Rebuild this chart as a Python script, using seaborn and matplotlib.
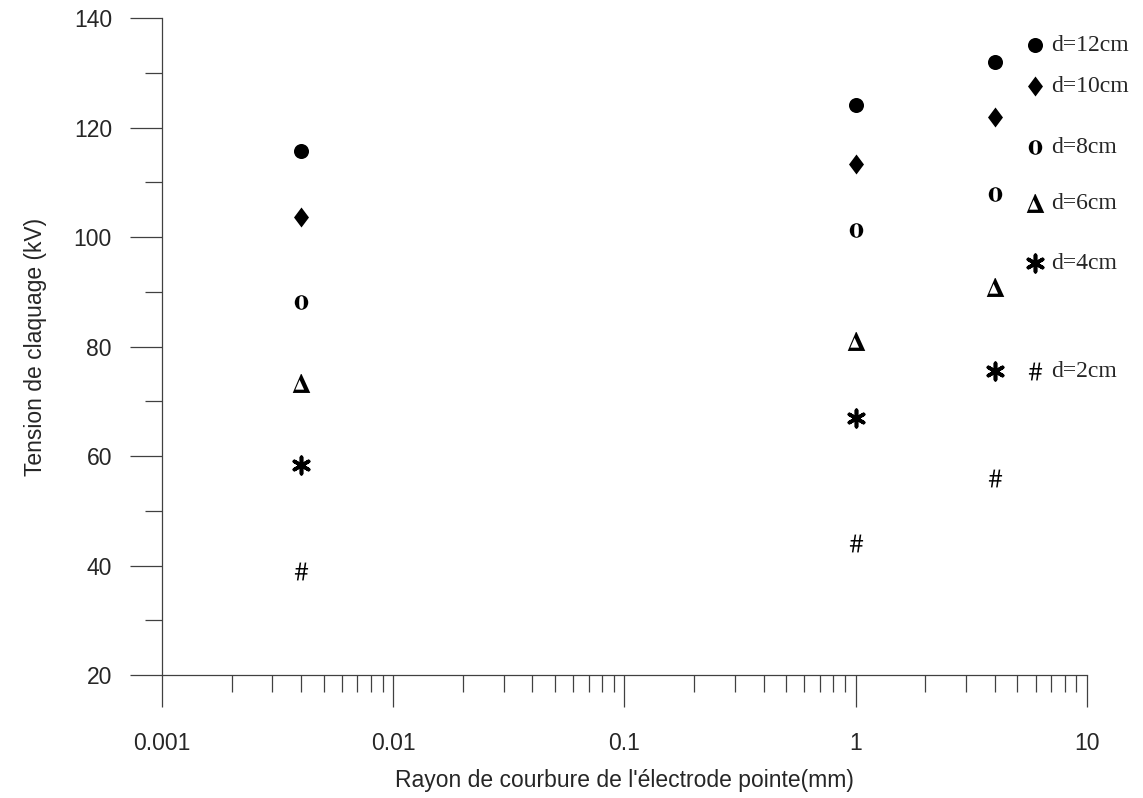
import matplotlib
matplotlib.use("Agg")
import matplotlib.pyplot as plt
import numpy as np
import pandas as pd
import seaborn as sns
from matplotlib import ticker

# point radius of curvature (mm)
rayon = [0.004, 1, 4]

# breakdown voltage (kV) for each gap distance
v_d12 = [115.8, 124.1, 132.0]
v_d10 = [103.7, 113.3, 121.9]
v_d8 = [88.2, 101.2, 107.8]
v_d6 = [73.4, 81.0, 90.8]
v_d4 = [58.3, 66.9, 75.6]
v_d2 = [39.0, 44.1, 55.9]

d_labels = ["d=12cm", "d=10cm", "d=8cm", "d=6cm", "d=4cm", "d=2cm"]
series = [v_d12, v_d10, v_d8, v_d6, v_d4, v_d2]

df = pd.DataFrame(
    [(r, v, lab) for lab, vals in zip(d_labels, series) for r, v in zip(rayon, vals)],
    columns=["rayon", "tension", "d"],
)

sns.set_style("ticks")
plt.rcParams["font.family"] = ["Liberation Sans", "DejaVu Sans"]
plt.rcParams["mathtext.fontset"] = "stix"

fig = plt.figure(figsize=(11.43, 7.98), dpi=100)
ax = fig.add_axes([0.1417, 0.1541, 0.8093, 0.8233])

diamond = [(0, 1), (0.75, 0), (0, -1), (-0.75, 0), (0, 1)]
markers = ["o", diamond, r"$\mathbf{o}$", r"$\mathbf{\Delta}$", (6, 2, 0), r"$\#$"]
sizes = [117, 207, 110, 185, 140, 165]
lws = [0, 0, 0, 0, 2.6, 0]

for lab, mk, s, lw in zip(d_labels, markers, sizes, lws):
    sns.scatterplot(
        data=df[df["d"] == lab],
        x="rayon",
        y="tension",
        marker=mk,
        s=s,
        color="black",
        edgecolor="black",
        linewidth=lw,
        ax=ax,
        legend=False,
    )

ax.set_xscale("log")
ax.set_xlim(0.001, 10)
ax.set_ylim(20, 140)
ax.xaxis.set_major_locator(ticker.LogLocator(base=10))
ax.xaxis.set_minor_locator(ticker.LogLocator(base=10, subs=np.arange(2, 10), numticks=20))
ax.xaxis.set_major_formatter(ticker.FuncFormatter(lambda v, p: f"{v:g}"))
ax.xaxis.set_minor_formatter(ticker.NullFormatter())
ax.yaxis.set_major_locator(ticker.MultipleLocator(20))
ax.yaxis.set_minor_locator(ticker.MultipleLocator(10))

sns.despine(ax=ax)
for sp in ["left", "bottom"]:
    ax.spines[sp].set_color("#404040")
    ax.spines[sp].set_linewidth(0.9)

ax.tick_params(axis="both", which="major", length=23, width=0.9, color="#404040",
               labelsize=16.5, direction="out")
ax.tick_params(axis="both", which="minor", length=12, width=0.9, color="#404040",
               direction="out")
ax.tick_params(axis="y", which="major", pad=13)
ax.tick_params(axis="x", which="major", pad=18)

ax.set_xlabel("Rayon de courbure de l'électrode pointe(mm)", fontsize=16.5, labelpad=10)
ax.set_ylabel("Tension de claquage (kV)", fontsize=16.5, labelpad=19)

# hand-placed legend entries, as in the original figure
leg_y = [45, 86, 147, 203, 263, 371]
for coll, lab, yp in zip(ax.collections, d_labels, leg_y):
    fig.legend(
        [coll], [lab],
        loc="center left",
        bbox_to_anchor=(1026 / 1143, 1 - yp / 798),
        bbox_transform=fig.transFigure,
        frameon=False,
        borderpad=0,
        borderaxespad=0,
        handlelength=0.8,
        handletextpad=0.25,
        scatterpoints=1,
        prop={"family": "Liberation Serif", "size": 17},
    )

fig.savefig("out.png", dpi=100)
